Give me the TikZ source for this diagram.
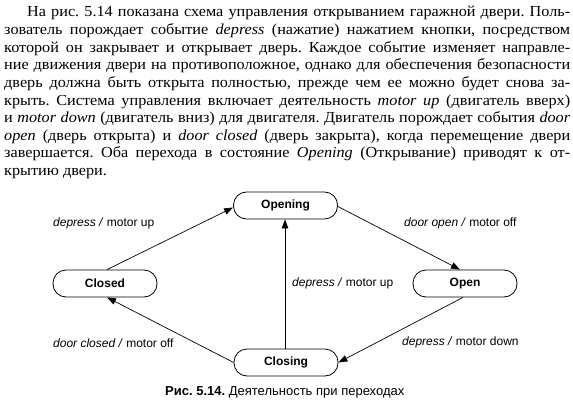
\documentclass[tikz,border=0pt]{standalone}
\usepackage{fontspec}
\setmainfont[FakeStretch=1.06]{Liberation Serif}
\newfontfamily\diagfont{Liberation Sans}
\usetikzlibrary{arrows.meta}
\frenchspacing
\begin{document}
\begin{tikzpicture}[x=1pt,y=-1pt,
  txtline/.style={anchor=base west,inner sep=0pt,font=\fontsize{15.3}{17}\selectfont\frenchspacing},
  state/.style={draw,line width=0.8pt,rounded corners=13pt,minimum width=104pt,minimum height=27pt,inner sep=0pt,font=\diagfont\fontsize{12}{14}\selectfont\bfseries},
  trans/.style={draw,line width=0.7pt,-{Triangle[length=9pt,width=6.5pt]}},
  lbl/.style={anchor=west,inner sep=0pt,font=\diagfont\fontsize{12}{14}\selectfont},
  captext/.style={anchor=west,inner sep=0pt,font=\diagfont\fontsize{13}{15}\selectfont}]
\useasboundingbox (0,0) rectangle (573,404);
% paragraph
\node[txtline] (t1) at (27,17) {\makebox[543pt][s]{На рис. 5.14 показана схема управления открыванием гаражной двери. Поль-}};
\node[txtline] (t2) at (4,34.6) {\makebox[566pt][s]{зователь порождает событие \textit{depress} (нажатие) нажатием кнопки, посредством}};
\node[txtline] (t3) at (4,52.2) {\makebox[566pt][s]{которой он закрывает и открывает дверь. Каждое событие изменяет направле-}};
\node[txtline] (t4) at (4,69.8) {\makebox[566pt][s]{ние движения двери на противоположное, однако для обеспечения безопасности}};
\node[txtline] (t5) at (4,87.4) {\makebox[566pt][s]{дверь должна быть открыта полностью, прежде чем ее можно будет снова за-}};
\node[txtline] (t6) at (4,105) {\makebox[566pt][s]{крыть. Система управления включает деятельность \textit{motor up} (двигатель вверх)}};
\node[txtline] (t7) at (4,122.6) {\makebox[566pt][s]{и \textit{motor down} (двигатель вниз) для двигателя. Двигатель порождает события \textit{door}}};
\node[txtline] (t8) at (4,140.2) {\makebox[566pt][s]{\textit{open} (дверь открыта) и \textit{door closed} (дверь закрыта), когда перемещение двери}};
\node[txtline] (t9) at (4,157.8) {\makebox[566pt][s]{завершается. Оба перехода в состояние \textit{Opening} (Открывание) приводят к от-}};
\node[txtline] (t10) at (4,175.4) {крытию двери.};
% states
\node[state] (closed) at (105,283.5) {Closed};
\node[state] (opening) at (285.5,205.5) {Opening};
\node[state] (open) at (465,283.5) {Open};
\node[state] (closing) at (286,362.5) {Closing};
% transitions
\draw[trans] ([xshift=2pt]closed.north) -- ([yshift=-2pt]opening.west);
\draw[trans] ([yshift=-1pt]opening.east) -- ([xshift=-5pt]open.north);
\draw[trans] ([xshift=-2pt]open.south) -- (closing.east);
\draw[trans] (closing.west) -- ([xshift=2pt]closed.south);
\draw[trans] ([xshift=-1pt]closing.north) -- ([xshift=-0.5pt]opening.south);
% labels
\node[lbl] (l1) at (53,223) {\textit{depress /} motor up};
\node[lbl] (l2) at (53,343) {\textit{door closed /} motor off};
\node[lbl] (l3) at (292,283) {\textit{depress /} motor up};
\node[lbl] (l4) at (404,223) {\textit{door open /} motor off};
\node[lbl] (l5) at (402,342) {\textit{depress /} motor down};
% caption
\node[captext] (caption) at (165,392) {\textbf{Рис. 5.14.} Деятельность при переходах};
\end{tikzpicture}
\end{document}
